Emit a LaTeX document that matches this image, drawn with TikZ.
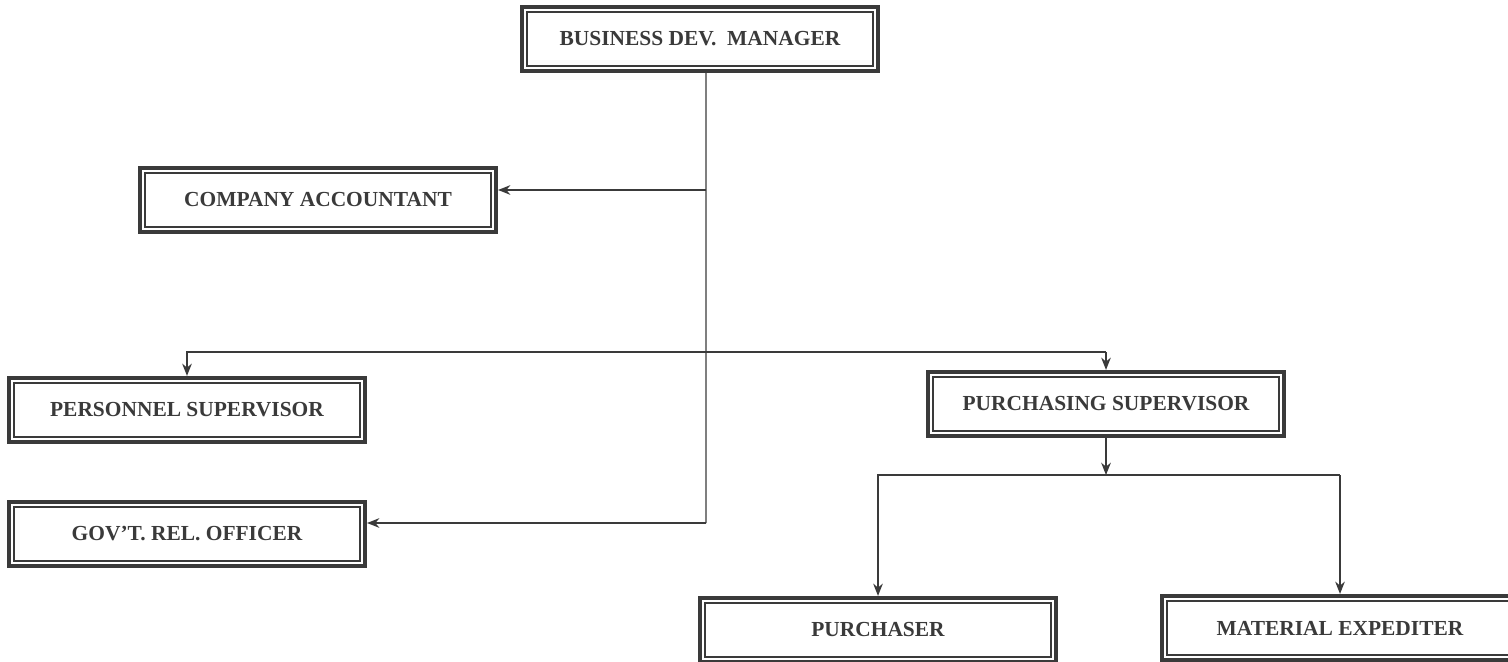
\documentclass[tikz,border=0pt]{standalone}
\usepackage{fontspec}
\setmainfont{Liberation Serif}
\usepackage{tikz}
\usetikzlibrary{arrows.meta}
\definecolor{ink}{HTML}{3A3A3A}

\begin{document}
\begin{tikzpicture}[x=0.02cm,y=-0.02cm,>={Stealth[length=7pt,width=5.5pt]},line width=0.7pt,
  staff node/.style={draw=ink,line width=2.4pt,fill=white,minimum width=7.12cm,
    minimum height=1.28cm,text=ink,font=\bfseries\fontsize{12.2}{14}\selectfont,
    path picture={\draw[ink,line width=0.7pt]
      ([shift={(2.8pt,-2.8pt)}]path picture bounding box.north west) rectangle
      ([shift={(-2.8pt,2.8pt)}]path picture bounding box.south east);}}]

  \useasboundingbox (0,0) rectangle (1508,662);

  \node[staff node] (bdm) at (700,39) {BUSINESS DEV.\ \ MANAGER};
  \node[staff node] (acc) at (318,200) {COMPANY ACCOUNTANT};
  \node[staff node] (pers) at (187,410) {PERSONNEL SUPERVISOR};
  \node[staff node] (purs) at (1106,404) {PURCHASING SUPERVISOR};
  \node[staff node] (gov) at (187,534) {GOV'T. REL. OFFICER};
  \node[staff node] (buyer) at (878,630) {PURCHASER};
  \node[staff node] (expd) at (1340,628) {MATERIAL EXPEDITER};

  % trunk and branches
  \coordinate (t1) at (706,190);
  \coordinate (t2) at (706,523);
  \coordinate (s1) at (187,352);
  \coordinate (s2) at (1106,352);
  \coordinate (p1) at (1106,475);
  \coordinate (p2) at (878,475);
  \coordinate (p3) at (1340,475);

  \draw[ink] ([xshift=0.12cm]bdm.south) -- (t2);
  \draw[ink,->] (t1) -- (t1 -| acc.east);
  \draw[ink,->] (t2) -- (t2 -| gov.east);
  \draw[ink,->] (s1 -| s2) -- (s1) -- (pers.north);
  \draw[ink,->] (s2) -- (purs.north);
  \draw[ink,->] (purs.south) -- (p1);
  \draw[ink,->] (p3) -- (p2) -- (buyer.north);
  \draw[ink,->] (p3) -- (expd.north);
\end{tikzpicture}
\end{document}
